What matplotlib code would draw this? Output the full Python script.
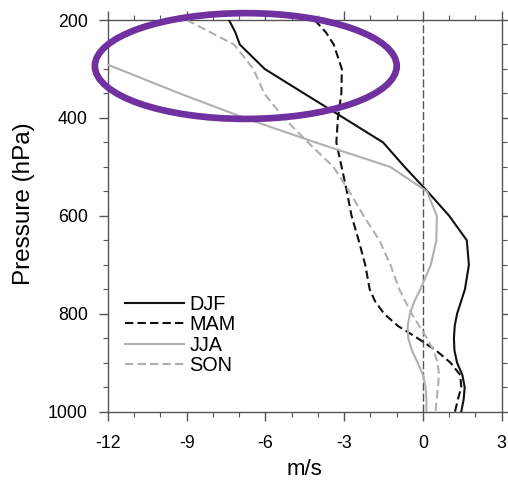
import matplotlib
matplotlib.use("Agg")
import matplotlib.pyplot as plt
from matplotlib.patches import Ellipse

plt.rcParams['font.family'] = ['Liberation Sans', 'DejaVu Sans']
plt.rcParams['axes.unicode_minus'] = False

# Pressure levels (hPa)
levels = [200, 225, 250, 300, 350, 400, 450, 500, 550, 600, 650, 700,
          750, 775, 800, 825, 850, 875, 900, 925, 950, 975, 1000]

# Seasonal profiles (m/s)
djf = [-7.39, -7.15, -6.98, -6.03, -4.53, -3.02, -1.52, -0.70, 0.17, 1.00, 1.67, 1.75,
       1.60, 1.45, 1.30, 1.21, 1.18, 1.20, 1.30, 1.50, 1.59, 1.55, 1.46]
mam = [-4.13, -3.70, -3.40, -3.09, -3.11, -3.24, -3.30, -3.10, -2.90, -2.72, -2.45, -2.20,
       -2.03, -1.82, -1.48, -0.95, -0.20, 0.50, 1.05, 1.42, 1.46, 1.33, 1.22]
jja = [-16.5, -15.2, -14.0, -11.6, -9.27, -6.80, -4.10, -1.25, 0.15, 0.53, 0.51, 0.30,
       -0.10, -0.33, -0.50, -0.58, -0.56, -0.42, -0.20, 0.00, 0.10, 0.13, 0.13]
son = [-9.00, -8.10, -7.20, -6.46, -6.05, -5.30, -4.38, -3.41, -2.81, -2.26, -1.66, -1.24,
       -0.90, -0.67, -0.43, -0.14, 0.15, 0.40, 0.56, 0.61, 0.57, 0.52, 0.48]

season_names = ['DJF', 'MAM', 'JJA', 'SON']

xticks = [-12, -9, -6, -3, 0, 3]
yticks = [200, 400, 600, 800, 1000]

fig = plt.figure(figsize=(5.08, 4.82), dpi=100)
ax = fig.add_axes([108 / 508, 1 - 411.7 / 482, 393.7 / 508, 391.7 / 482])

black = '#111111'
gray = '#b0b0b0'
ax.plot(djf, levels, color=black, lw=1.5, ls='-', label=season_names[0], zorder=3)
ax.plot(mam, levels, color=black, lw=1.5, ls=(0, (4, 2)), label=season_names[1], zorder=3)
ax.plot(jja, levels, color=gray, lw=1.5, ls='-', label=season_names[2], zorder=3)
ax.plot(son, levels, color=gray, lw=1.5, ls=(0, (4, 2)), label=season_names[3], zorder=3)

ax.axvline(0, color='#555555', lw=1.0, ls=(0, (5.8, 2)), zorder=2)

ax.set_xlim(-12, 3)
ax.set_ylim(1000, 200)
ax.set_xticks(xticks)
ax.set_xticklabels([str(t) for t in xticks])
ax.set_yticks(yticks)
ax.set_yticklabels([str(t) for t in yticks])
ax.set_xticks(range(-12, 4), minor=True)
ax.set_yticks(range(200, 1001, 50), minor=True)

for s in ax.spines.values():
    s.set_color('#555555')
    s.set_linewidth(1.0)

ax.tick_params(axis='both', which='both', direction='out', top=True, right=True,
               colors='#555555', labelcolor='black')
ax.tick_params(axis='both', which='major', length=6.5, width=1.0, labelsize=12.8)
ax.tick_params(axis='both', which='minor', length=3.5, width=0.8)
ax.tick_params(axis='x', which='major', pad=10)
ax.tick_params(axis='y', which='major', pad=8)

ax.set_xlabel('m/s', fontsize=16, labelpad=5)
ax.set_ylabel('Pressure (hPa)', fontsize=17.5)
ax.yaxis.set_label_coords(-0.185, 0.531)

leg = ax.legend(loc='upper left', bbox_to_anchor=(0.043, 0.299), frameon=False,
                borderpad=0, borderaxespad=0, handlelength=2.95, handletextpad=0.3,
                labelspacing=0.08, fontsize=14.3)

ell = Ellipse((-6.75, 294), width=11.5, height=216, fill=False,
              edgecolor='#7030A0', lw=4.8, clip_on=False, zorder=10)
ax.add_patch(ell)

fig.savefig('out.png', dpi=100)
